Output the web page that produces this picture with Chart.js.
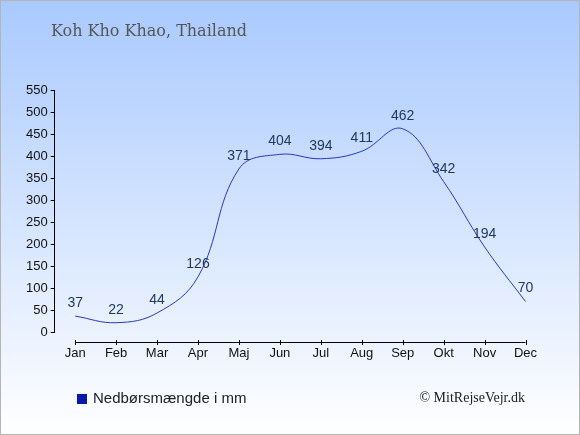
<!DOCTYPE html>
<html>
<head>
<meta charset="utf-8">
<script src="https://cdn.jsdelivr.net/npm/chart.js@4/dist/chart.umd.min.js"></script>
<style>
  html, body { margin: 0; padding: 0; background: #fff; }
  #wrap { width: 580px; height: 435px; position: relative; }
</style>
</head>
<body>
<div id="wrap"><canvas id="rainChart" width="580" height="435"></canvas></div>
<script>
"use strict";

/* data */
var months = ["Jan", "Feb", "Mar", "Apr", "Maj", "Jun", "Jul", "Aug", "Sep", "Okt", "Nov", "Dec"];
var rain = [37, 22, 44, 126, 371, 404, 394, 411, 462, 342, 194, 70];
var yMin = 0, yMax = 550, yStep = 50;
var titleText = "Koh Kho Khao, Thailand";
var legendText = "Nedbørsmængde i mm";
var creditText = "© MitRejseVejr.dk";

/*---------------------------------------------------
  Background, title, legend, credit
---------------------------------------------------*/
var decorPlugin = {
    id: 'decor',
    beforeDraw: function (chart) {
        var ctx = chart.ctx, w = chart.width, h = chart.height;
        var g = ctx.createLinearGradient(0, 0, 0, h);
        g.addColorStop(0, '#a9c9ff');
        g.addColorStop(1, '#ffffff');
        ctx.save();
        ctx.fillStyle = g;
        ctx.fillRect(0, 0, w, h);
        ctx.restore();
    },
    afterDraw: function (chart) {
        var ctx = chart.ctx, w = chart.width, h = chart.height;
        ctx.save();
        // title
        ctx.fillStyle = '#555555';
        ctx.font = '16px "DejaVu Serif", serif';
        ctx.textBaseline = 'middle';
        ctx.textAlign = 'left';
        ctx.fillText(titleText, 51, 32);
        // legend
        ctx.fillStyle = '#0a1aa8';
        ctx.fillRect(77, 394, 10, 10);
        ctx.fillStyle = '#222222';
        ctx.font = '15px "Liberation Sans", Arial, sans-serif';
        ctx.fillText(legendText, 93, 399);
        // credit
        ctx.font = '14px "Liberation Serif", "Times New Roman", serif';
        ctx.textAlign = 'right';
        ctx.fillText(creditText, 525, 398);
        // frame
        ctx.strokeStyle = '#b4b4b4';
        ctx.lineWidth = 1;
        ctx.strokeRect(0.5, 0.5, w - 1, h - 1);
        ctx.restore();
    }
};

/*---------------------------------------------------
  X axis line drawn a bit below the plot
---------------------------------------------------*/
var xAxisPlugin = {
    id: 'xAxisLine',
    afterDraw: function (chart) {
        var ctx = chart.ctx, xs = chart.scales.x;
        var y = Math.round(chart.chartArea.bottom + 10) + 0.5;
        var x0 = xs.getPixelForValue(0), x1 = xs.getPixelForValue(months.length - 1);
        ctx.save();
        ctx.strokeStyle = '#000';
        ctx.lineWidth = 1;
        ctx.beginPath();
        ctx.moveTo(x0, y);
        ctx.lineTo(x1, y);
        for (var i = 0; i < months.length; i++) {
            var px = Math.round(xs.getPixelForValue(i)) + 0.5;
            ctx.moveTo(px, y - 2.5);
            ctx.lineTo(px, y + 2.5);
        }
        ctx.stroke();
        ctx.restore();
    }
};

/*---------------------------------------------------
  Value labels above points
---------------------------------------------------*/
var valueLabels = {
    id: 'valueLabels',
    afterDatasetsDraw: function (chart) {
        var ctx = chart.ctx;
        var meta = chart.getDatasetMeta(0);
        ctx.save();
        ctx.fillStyle = '#22385a';
        ctx.font = '14px "Liberation Sans", Arial, sans-serif';
        ctx.textAlign = 'center';
        ctx.textBaseline = 'middle';
        meta.data.forEach(function (pt, i) {
            ctx.fillText(String(rain[i]), pt.x, pt.y - 13);
        });
        ctx.restore();
    }
};

var rainChart = new Chart(document.getElementById('rainChart'), {
    type: 'line',
    data: {
        labels: months,
        datasets: [{
            label: legendText,
            data: rain,
            borderColor: '#2838c0',
            borderWidth: 1,
            pointRadius: 0,
            tension: 0.4,
            fill: false
        }]
    },
    options: {
        responsive: false,
        animation: false,
        devicePixelRatio: 1,
        layout: {
            padding: { left: 23, right: 34, top: 90, bottom: 69 }
        },
        plugins: {
            legend: { display: false },
            title: { display: false },
            tooltip: { enabled: false }
        },
        scales: {
            x: {
                type: 'category',
                offset: true,
                grid: { display: false },
                border: { display: false },
                ticks: {
                    color: '#111',
                    padding: 5,
                    font: { family: '"Liberation Sans", Arial, sans-serif', size: 13 },
                    maxRotation: 0
                }
            },
            y: {
                min: yMin,
                max: yMax,
                grid: { drawOnChartArea: false, tickLength: 4, color: '#000' },
                border: { display: true, color: '#000' },
                ticks: {
                    stepSize: yStep,
                    color: '#111',
                    padding: 3,
                    font: { family: '"Liberation Sans", Arial, sans-serif', size: 13 }
                }
            }
        }
    },
    plugins: [decorPlugin, xAxisPlugin, valueLabels]
});
</script>
</body>
</html>
